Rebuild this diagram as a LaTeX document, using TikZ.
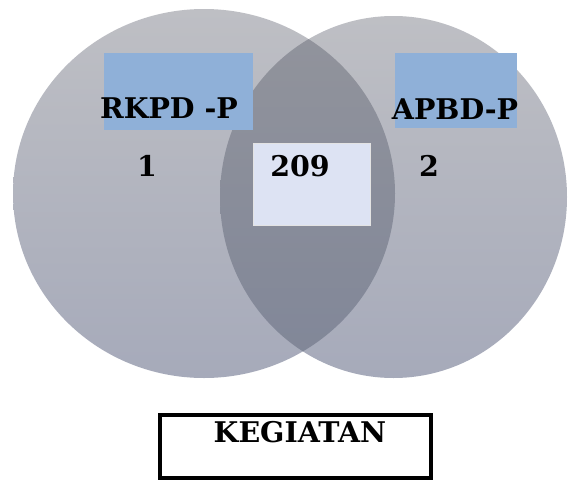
\documentclass[tikz,border=0pt]{standalone}
\usepackage{fontspec}
\newfontfamily\labelfont{DejaVu Serif}
\usepackage{tikz}
\definecolor{circtop}{RGB}{190,191,196}
\definecolor{circbot}{RGB}{166,170,186}
\definecolor{lenstop}{RGB}{146,148,156}
\definecolor{lensbot}{RGB}{128,134,152}
\definecolor{labelblue}{RGB}{143,176,216}
\definecolor{centrebox}{RGB}{221,227,243}
\tikzset{
  setlabel/.style={inner sep=0pt, font=\labelfont\fontsize{28.5}{32}\selectfont\bfseries},
  countlabel/.style={inner sep=0pt, font=\labelfont\fontsize{28.5}{32}\selectfont\bfseries},
  bluepatch/.style={fill=labelblue},
  framebox/.style={draw=black, line width=4pt, fill=white}
}
\begin{document}
\begin{tikzpicture}[x=1pt,y=-1pt]
\useasboundingbox (0,0) rectangle (568,480);
\fill[white] (0,0) rectangle (568,480);

% the two sets
\coordinate (cl) at (204,193.5);
\coordinate (cr) at (393.5,197);
\shade[top color=circtop, bottom color=circbot]
  (cl) ellipse [x radius=191pt, y radius=184.5pt];
\shade[top color=circtop, bottom color=circbot]
  (cr) ellipse [x radius=173.5pt, y radius=181pt];

% their intersection
\begin{scope}
  \clip (cl) ellipse [x radius=191pt, y radius=184.5pt];
  \shade[top color=lenstop, bottom color=lensbot]
    (cr) ellipse [x radius=173.5pt, y radius=181pt];
\end{scope}

% label patches
\fill[bluepatch] (104,53) rectangle (253,130);
\fill[bluepatch] (395,53) rectangle (517,128);
\fill[centrebox, draw=white!78!gray, line width=0.6pt] (253,143) rectangle (370,225);

% labels
\node[setlabel] (rkpd) at (169,108) {RKPD -P};
\node[setlabel] (apbd) at (455,109) {APBD-P};
\node[countlabel] (n1) at (147,166) {1};
\node[countlabel] (n209) at (300,166) {209};
\node[countlabel] (n2) at (429,166) {2};

% caption box
\draw[framebox] (160,415) rectangle (431,477.5);
\node[setlabel] (keg) at (300,432) {KEGIATAN};
\end{tikzpicture}
\end{document}
